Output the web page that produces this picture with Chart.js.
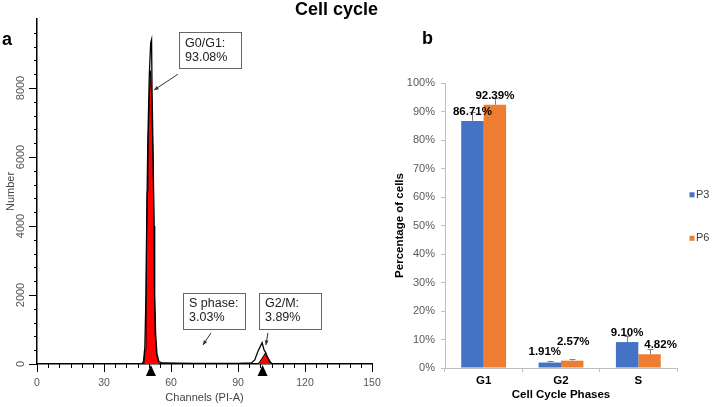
<!DOCTYPE html>
<html>
<head>
<meta charset="utf-8">
<title>Cell cycle</title>
<script src="https://cdn.jsdelivr.net/npm/chart.js@4.4.1/dist/chart.umd.min.js"></script>
<style>
body { margin: 0; width: 712px; height: 407px; background: #fff; position: relative; overflow: hidden; font-family: 'Liberation Sans', Arial, sans-serif; }
.box { position: absolute; top: 0; height: 407px; }
#boxA { left: 0; width: 392px; }
#boxB { left: 380px; width: 332px; }
.tag { position: absolute; font-weight: bold; color: #000; line-height: 1; white-space: nowrap; }
</style>
</head>
<body>
<div class="box" id="boxA"><canvas id="histChart"></canvas></div>
<div class="box" id="boxB"><canvas id="barChart"></canvas></div>
<div class="tag" style="left:295px; top:0px; font-size:18px;">Cell cycle</div>
<div class="tag" style="left:2px; top:30px; font-size:18px;">a</div>
<div class="tag" style="left:422px; top:29px; font-size:18px;">b</div>

<script>
// panel a - PI histogram
const rawChannels = [0, 46.5, 47.2, 47.7, 48.3, 48.8, 49.1, 49.6, 50.3, 50.9, 51.3, 51.5, 52, 52.4, 52.7, 53.1, 53.7, 54.5, 56, 70, 90, 96, 97.5, 99, 100.8, 101.6, 102.4, 103.3, 104.3, 105.5, 150];
const rawCounts   = [0, 0, 20, 80, 500, 2000, 4000, 6400, 8400, 9300, 9400, 8000, 6000, 4000, 2000, 900, 300, 80, 30, 20, 20, 30, 120, 380, 620, 420, 330, 170, 50, 0, 0];
// fitted G1 / G2 components (red)
const fitChannels = [0, 47.5, 47.9, 48.4, 48.8, 49.05, 49.3, 49.7, 50.2, 50.8, 51.3, 51.8, 52.2, 52.45, 52.6, 52.9, 53.5, 54.2, 55, 98.5, 99.5, 100.8, 102.2, 103.4, 104.5, 105.5, 150];
const fitCounts   = [0, 0, 80, 400, 1500, 3500, 5000, 6200, 7600, 8500, 7800, 6400, 5000, 3500, 2000, 900, 300, 80, 0, 0, 40, 170, 310, 190, 60, 0, 0];
const markerChannels = [51, 101];

// callout boxes, anchored in data coordinates (channel, count)
const callouts = [
    { lines: ['G0/G1:', '93.08%'], box: [63.6, 9620], from: [63.1, 8400], to: [52.4, 7940] },
    { lines: ['S phase:', '3.03%'], box: [65.4, 2060], from: [77.9, 900], to: [74.3, 550] },
    { lines: ['G2/M:', '3.89%'], box: [99.4, 2060], from: [103.4, 900], to: [102.5, 550] }
];

// panel b - bar chart
const phases = ['G1', 'G2', 'S'];
const p3Values = [86.71, 1.91, 9.10];
const p6Values = [92.39, 2.57, 4.82];
const p3Errors = [3.2, 0.6, 2.2];
const p6Errors = [2.3, 0.5, 1.9];

// label nudges [dx, dy] in px from bar top (style only)
const labelNudge = [
    [[0, -9], [-5, -11], [0, -9]],
    [[0, -9], [1, -19], [11, -9]]
];

const FONT = "'Liberation Sans', Arial, sans-serif";
Chart.defaults.font.family = FONT;

function toPoints(xs, ys) {
    return xs.map((x, i) => ({ x: x, y: ys[i] }));
}

// ticks, rotated y labels, gate markers and callouts for the histogram
const histExtras = {
    id: 'histExtras',
    afterDraw(chart) {
        const ctx = chart.ctx;
        const xs = chart.scales.x, ys = chart.scales.y;
        const area = chart.chartArea;
        ctx.save();
        ctx.strokeStyle = '#000';
        ctx.lineWidth = 1;
        for (let v = 0; v <= 150; v += 5) {
            const px = Math.round(xs.getPixelForValue(v)) + 0.5;
            const len = v % 30 === 0 ? 8 : 4;
            ctx.beginPath();
            ctx.moveTo(px, area.bottom);
            ctx.lineTo(px, area.bottom + len);
            ctx.stroke();
        }
        for (let v = 0; v < 10000; v += 400) {
            const py = Math.round(ys.getPixelForValue(v)) + 0.5;
            const len = v % 2000 === 0 ? 8 : 3;
            ctx.beginPath();
            ctx.moveTo(area.left - len, py);
            ctx.lineTo(area.left, py);
            ctx.stroke();
        }
        // gate markers under the axis
        ctx.fillStyle = '#000';
        markerChannels.forEach(c => {
            const px = xs.getPixelForValue(c);
            ctx.beginPath();
            ctx.moveTo(px, area.bottom + 1);
            ctx.lineTo(px + 5, area.bottom + 12);
            ctx.lineTo(px - 5, area.bottom + 12);
            ctx.closePath();
            ctx.fill();
        });
        // y tick labels, rotated
        ctx.fillStyle = '#555';
        ctx.font = '11px ' + FONT;
        ctx.textAlign = 'center';
        ctx.textBaseline = 'middle';
        ys.ticks.forEach(t => {
            if (t.value >= 10000) return;
            const py = ys.getPixelForValue(t.value);
            ctx.save();
            ctx.translate(21, py);
            ctx.rotate(-Math.PI / 2);
            ctx.fillText(String(t.value), 0, 0);
            ctx.restore();
        });
        // callouts
        callouts.forEach(c => {
            const bx = xs.getPixelForValue(c.box[0]);
            const by = ys.getPixelForValue(c.box[1]);
            ctx.fillStyle = '#fff';
            ctx.fillRect(bx, by, 62, 36);
            ctx.strokeStyle = '#666';
            ctx.strokeRect(Math.round(bx) + 0.5, Math.round(by) + 0.5, 62, 36);
            ctx.fillStyle = '#222';
            ctx.font = '12.5px ' + FONT;
            ctx.textAlign = 'left';
            ctx.textBaseline = 'middle';
            ctx.fillText(c.lines[0], bx + 6, by + 11);
            ctx.fillText(c.lines[1], bx + 6, by + 25);
            const x1 = xs.getPixelForValue(c.from[0]), y1 = ys.getPixelForValue(c.from[1]);
            const x2 = xs.getPixelForValue(c.to[0]), y2 = ys.getPixelForValue(c.to[1]);
            ctx.strokeStyle = '#333';
            ctx.beginPath();
            ctx.moveTo(x1, y1);
            ctx.lineTo(x2, y2);
            ctx.stroke();
            const a = Math.atan2(y2 - y1, x2 - x1);
            ctx.fillStyle = '#333';
            ctx.beginPath();
            ctx.moveTo(x2, y2);
            ctx.lineTo(x2 - 5 * Math.cos(a - 0.4), y2 - 5 * Math.sin(a - 0.4));
            ctx.lineTo(x2 - 5 * Math.cos(a + 0.4), y2 - 5 * Math.sin(a + 0.4));
            ctx.closePath();
            ctx.fill();
        });
        ctx.restore();
    }
};

new Chart(document.getElementById('histChart').getContext('2d'), {
    type: 'line',
    data: {
        datasets: [{
            label: 'Data',
            data: toPoints(rawChannels, rawCounts),
            borderColor: '#000',
            borderWidth: 1.3,
            pointRadius: 0,
            fill: false,
            tension: 0,
            order: 0
        }, {
            label: 'Fit',
            data: toPoints(fitChannels, fitCounts),
            borderColor: '#000',
            borderWidth: 1,
            backgroundColor: '#ff0000',
            pointRadius: 0,
            fill: 'origin',
            tension: 0,
            order: 1
        }]
    },
    options: {
        responsive: true,
        maintainAspectRatio: false,
        animation: false,
        layout: { padding: { top: 19, right: 20, left: 0, bottom: 0 } },
        plugins: { legend: { display: false }, tooltip: { enabled: false } },
        scales: {
            x: {
                type: 'linear', min: 0, max: 150,
                ticks: {
                    stepSize: 5, autoSkip: false, maxRotation: 0, padding: 5,
                    color: '#555', font: { size: 10.5 },
                    callback: v => (v % 30 === 0 ? v : '')
                },
                grid: { drawOnChartArea: false, drawTicks: true, tickLength: 8, color: 'rgba(0,0,0,0)' },
                border: { color: '#000', width: 1.5 },
                title: { display: true, text: 'Channels (PI-A)', color: '#444', font: { size: 11 }, padding: { top: 0, bottom: 2 } },
                afterFit: s => { s.height = 43; }
            },
            y: {
                min: 0, max: 10000,
                ticks: { stepSize: 2000, display: false },
                grid: { display: false },
                border: { color: '#000', width: 1.5 },
                title: { display: true, text: 'Number', color: '#444', font: { size: 11 }, padding: { top: 4, bottom: 0 } },
                afterFit: s => { s.width = 37; }
            }
        }
    },
    plugins: [histExtras]
});

// error bars, value labels and legend for the bar chart
const barExtras = {
    id: 'barExtras',
    afterDatasetsDraw(chart) {
        const ctx = chart.ctx;
        const ys = chart.scales.y;
        const area = chart.chartArea;
        const errs = [p3Errors, p6Errors];
        ctx.save();
        chart.data.datasets.forEach((ds, di) => {
            const meta = chart.getDatasetMeta(di);
            meta.data.forEach((bar, i) => {
                const top = ys.getPixelForValue(ds.data[i] + errs[di][i]);
                const x = Math.round(bar.x) + 0.5;
                ctx.strokeStyle = '#7f7f7f';
                ctx.lineWidth = 1;
                ctx.beginPath();
                ctx.moveTo(x, bar.y);
                ctx.lineTo(x, top);
                ctx.moveTo(x - 3, Math.round(top) + 0.5);
                ctx.lineTo(x + 3, Math.round(top) + 0.5);
                ctx.stroke();
            });
        });
        chart.data.datasets.forEach((ds, di) => {
            const meta = chart.getDatasetMeta(di);
            meta.data.forEach((bar, i) => {
                const n = labelNudge[di][i];
                ctx.fillStyle = '#000';
                ctx.font = 'bold 11.5px ' + FONT;
                ctx.textAlign = 'center';
                ctx.textBaseline = 'middle';
                ctx.fillText(ds.data[i].toFixed(2) + '%', bar.x + n[0], bar.y + n[1]);
            });
        });
        // legend at the right
        const mid = (area.top + area.bottom) / 2 - 9;
        chart.data.datasets.forEach((ds, di) => {
            const cy = mid - 21.7 + di * 43.5;
            ctx.fillStyle = ds.backgroundColor;
            ctx.fillRect(area.right + 12.5, cy - 2.5, 5, 5);
            ctx.fillStyle = '#404040';
            ctx.font = '11px ' + FONT;
            ctx.textAlign = 'left';
            ctx.textBaseline = 'middle';
            ctx.fillText(ds.label, area.right + 19, cy);
        });
        ctx.restore();
    }
};

new Chart(document.getElementById('barChart').getContext('2d'), {
    type: 'bar',
    data: {
        labels: phases,
        datasets: [{
            label: 'P3',
            data: p3Values,
            backgroundColor: '#4472c4'
        }, {
            label: 'P6',
            data: p6Values,
            backgroundColor: '#ed7d31'
        }]
    },
    options: {
        responsive: true,
        maintainAspectRatio: false,
        animation: false,
        categoryPercentage: 0.58,
        barPercentage: 1,
        layout: { padding: { top: 83, right: 35, left: 0, bottom: 0 } },
        plugins: { legend: { display: false }, tooltip: { enabled: false } },
        scales: {
            x: {
                ticks: { color: '#000', font: { size: 11.5, weight: 'bold' }, padding: 2 },
                grid: { offset: true, drawOnChartArea: false, tickLength: 4, tickColor: '#bfbfbf' },
                border: { color: '#bfbfbf', width: 1 },
                title: { display: true, text: 'Cell Cycle Phases', color: '#000', font: { size: 11.5, weight: 'bold' }, padding: { top: 0, bottom: 5 } },
                afterFit: s => { s.height = 39; }
            },
            y: {
                min: 0, max: 100,
                ticks: { stepSize: 10, color: '#595959', font: { size: 11 }, padding: 6, callback: v => v + '%' },
                grid: { drawOnChartArea: false, tickLength: 4, tickColor: '#bfbfbf' },
                border: { color: '#bfbfbf', width: 1 },
                title: { display: true, text: 'Percentage of cells', color: '#000', font: { size: 11.5, weight: 'bold' }, padding: { top: 13, bottom: 0 } },
                afterFit: s => { s.width = 65; }
            }
        }
    },
    plugins: [barExtras]
});
</script>
</body>
</html>
